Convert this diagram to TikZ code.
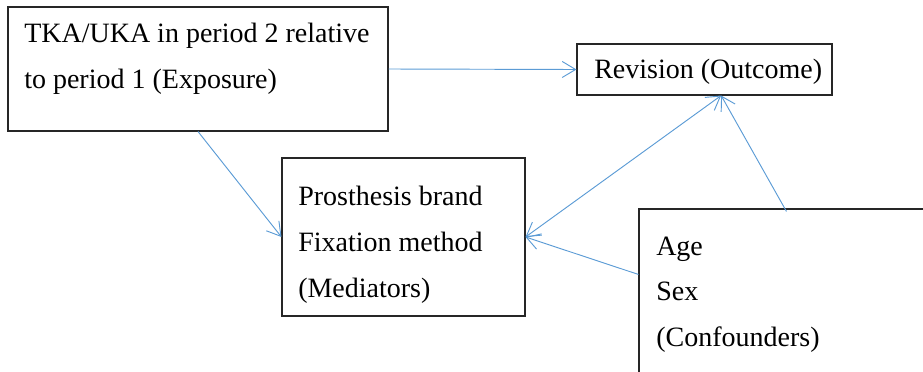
\documentclass[tikz,border=0pt]{standalone}
\usepackage{fontspec}
\setmainfont{Liberation Serif}
\usetikzlibrary{arrows.meta,fit,calc}
\definecolor{arrblue}{HTML}{5B9BD5}
\tikzset{
  box/.style={draw=black!85, line width=0.8pt, rectangle, inner sep=0pt},
  txt/.style={anchor=base west, inner sep=0pt, font=\fontsize{21}{25}\selectfont},
  arr/.style={draw=arrblue, line width=0.7pt, -{Straight Barb[length=10pt,width=12pt]}},
  arrtwo/.style={draw=arrblue, line width=0.7pt, {Straight Barb[length=10pt,width=12pt]}-{Straight Barb[length=10pt,width=12pt]}}
}
\begin{document}
\begin{tikzpicture}[x=0.75pt,y=-0.75pt]
\useasboundingbox (0,0) rectangle (923,371);
\clip (0,0) rectangle (923,371);
% boxes
\node[box, fit={(8,7) (388,131)}] (exp) {};
\node[box, fit={(577,44) (832,95)}] (rev) {};
\node[box, fit={(282,158) (525,316)}] (med) {};
\node[box, fit={(639,209) (1100,500)}] (conf) {};
% texts
\node[txt] (t1) at (24,42) {TKA/UKA in period 2 relative};
\node[txt] (t2) at (24,88) {to period 1 (Exposure)};
\node[txt] (t3) at (594,78) {Revision (Outcome)};
\node[txt] (t4) at (298,205) {Prosthesis brand};
\node[txt] (t5) at (298,251) {Fixation method};
\node[txt] (t6) at (298,297) {(Mediators)};
\node[txt] (t7) at (656,255) {Age};
\node[txt] (t8) at (656,300) {Sex};
\node[txt] (t9) at (656,346) {(Confounders)};
% connector points
\coordinate (revb) at ($(rev.south west)!0.565!(rev.south east)$);
\coordinate (confl) at ($(conf.north west)+(0,66)$);
\coordinate (conft) at ($(conf.north west)+(148,3)$);
% connectors
\draw[arr] (exp.east) -- (rev.west);
\draw[arr] (exp.south) -- (med.west);
\draw[arrtwo] (med.east) -- (revb);
\draw[arr] (confl) -- (med.east);
\draw[arr] (conft) -- (revb);
\end{tikzpicture}
\end{document}
